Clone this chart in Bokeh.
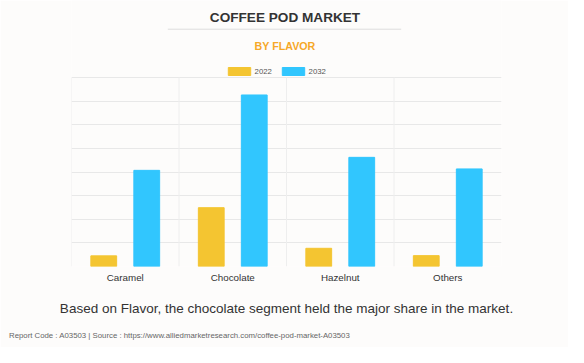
from bokeh.plotting import figure
from bokeh.models import (ColumnDataSource, FactorRange, Range1d, FixedTicker,
                          Legend, LegendItem, Label, Title)
from bokeh.transform import dodge
from bokeh.embed import file_html
from bokeh.resources import INLINE

# ---- data (gridline unit = 100) ----
categories = ["Caramel", "Chocolate", "Hazelnut", "Others"]
values_2022 = [45, 249, 77, 46]
values_2032 = [407, 726, 462, 413]
series_names = ["2022", "2032"]
y_ticks = [0, 100, 200, 300, 400, 500, 600, 700, 800]

title_text = "COFFEE POD MARKET"
subtitle_text = "BY FLAVOR"
caption_text = "Based on Flavor, the chocolate segment held the major share in the market."
footer_text = "Report Code : A03503  |  Source : https://www.alliedmarketresearch.com/coffee-pod-market-A03503"

YELLOW = "#f4c531"
BLUE = "#31c6fe"
BG = "#fdfcfb"
GRID = "#e8e8e8"
FONT = "Liberation Sans"

# ---- layout (figure pixels) ----
W, H = 568, 347
FR_L, FR_R = 71, 501          # plot frame left / right
GRID_TOP, FR_B = 77, 266      # y of top gridline / frame bottom
Y_END = (FR_B - 0) / ((FR_B - GRID_TOP) / (y_ticks[-1] - y_ticks[0]))


def dx(px):
    return (px - FR_L) / (FR_R - FR_L) * len(categories)


def dy(py):
    return (FR_B - py) * (y_ticks[-1] - y_ticks[0]) / (FR_B - GRID_TOP)


src = ColumnDataSource(dict(cat=categories, v2022=values_2022, v2032=values_2032,
                            y0=[y_ticks[0]] * len(categories),
                            y1=[y_ticks[-1]] * len(categories)))

p = figure(width=W, height=H, output_backend="svg", toolbar_location=None,
           x_range=FactorRange(factors=categories, range_padding=0),
           y_range=Range1d(y_ticks[0], Y_END),
           min_border_left=FR_L, min_border_right=W - FR_R,
           min_border_top=0, min_border_bottom=H - FR_B,
           background_fill_color=BG, border_fill_color=BG,
           outline_line_color=None)

p.yaxis.visible = False
p.ygrid.ticker = FixedTicker(ticks=y_ticks)
p.ygrid.grid_line_color = GRID
p.ygrid.grid_line_width = 1
p.xgrid.grid_line_color = None

# vertical separators at category left edges
p.segment(x0=dodge("cat", -0.5, range=p.x_range), x1=dodge("cat", -0.5, range=p.x_range),
          y0="y0", y1="y1", source=src, line_color="#eeeeee", line_width=1)

r1 = p.vbar(x=dodge("cat", -0.2, range=p.x_range), top="v2022", width=0.24,
            source=src, fill_color=YELLOW, line_color=YELLOW)
r2 = p.vbar(x=dodge("cat", 0.2, range=p.x_range), top="v2032", width=0.24,
            source=src, fill_color=BLUE, line_color=BLUE)

ax = p.xaxis[0]
ax.axis_line_color = None
ax.major_tick_line_color = None
ax.minor_tick_line_color = None
ax.major_tick_in = 0
ax.major_tick_out = 0
ax.major_label_text_font = FONT
ax.major_label_text_font_size = "9.8px"
ax.major_label_text_color = "#333333"
ax.major_label_standoff = 5

# ---- header (inside the upper, empty part of the frame) ----
p.add_layout(Label(x=dx(284.5), y=dy(16.7), text=title_text, text_align="center",
                   text_baseline="middle", text_font=FONT, text_font_size="13.6px",
                   text_font_style="bold", text_color="#333333"))
p.segment(x0=[dx(167.3)], x1=[dx(400.7)], y0=[dy(28.7)], y1=[dy(28.7)],
          line_color="#dddddd", line_width=1)
p.add_layout(Label(x=dx(284.5), y=dy(45.7), text=subtitle_text, text_align="center",
                   text_baseline="middle", text_font=FONT, text_font_size="10.7px",
                   text_font_style="bold", text_color="#f6a828"))

legend = Legend(items=[LegendItem(label=series_names[0], renderers=[r1]),
                       LegendItem(label=series_names[1], renderers=[r2])],
                orientation="horizontal", location=(224.6 - FR_L, FR_B - 76),
                glyph_width=28, glyph_height=10, label_height=10, label_width=18,
                label_text_font=FONT, label_text_font_size="7.8px",
                label_text_color="#555555",
                label_standoff=2, spacing=6, padding=4, margin=0,
                border_line_color=None, background_fill_alpha=0)
p.add_layout(legend)

# ---- footer (titles below the axis) ----
p.add_layout(Title(text=caption_text, align="center", offset=-2, standoff=26,
                   text_font=FONT, text_font_size="13.5px", text_font_style="normal",
                   text_color="#333333"), "below")
p.add_layout(Title(text=footer_text, align="left", offset=-62.5, standoff=0,
                   text_font=FONT, text_font_size="7.8px", text_font_style="normal",
                   text_color="#666666"), "below")

open("out.html", "w").write(file_html(p, INLINE))
